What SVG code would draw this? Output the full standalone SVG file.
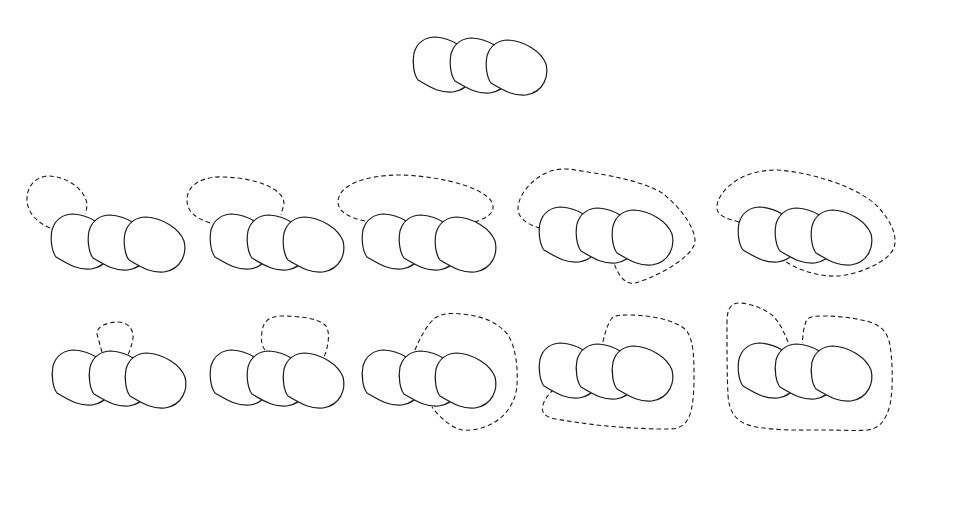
<svg xmlns="http://www.w3.org/2000/svg" xmlns:xlink="http://www.w3.org/1999/xlink" width="960" height="508" viewBox="0 0 960 508">
<style>
.blob{fill:#fff;stroke:#1a1a1a;stroke-width:1.2}
.loop{fill:none;stroke:#1a1a1a;stroke-width:1.1;stroke-dasharray:4.5 3}
</style>
<defs>
<path id="b" class="blob" d="M5,43 C1,38 -1,26 1,16 C4,5 13,0 22,0 C38,1 55,11 60,24 C63,36 58,52 40,55 C28,56 20,52 5,43 Z"/>
<g id="tri">
<use xlink:href="#b"/>
<use xlink:href="#b" x="37" y="1"/>
<use xlink:href="#b" x="73" y="3"/>
</g>
</defs>
<rect width="960" height="508" fill="#fff"/>
<g id="top"><use xlink:href="#tri" x="413" y="37"/></g>
<g id="figA">
<path class="loop" d="M50,228 C36,222 27,212 27,199 C27,184 38,176 49,176 C68,177 86,190 87,205 L86,214"/>
<use xlink:href="#tri" x="51" y="214"/>
</g>
<g id="figB">
<path class="loop" d="M210,223 C196,218 187,212 187,200 C187,184 204,176 224,177 C255,178 284,188 284,204 L281,215"/>
<use xlink:href="#tri" x="210" y="214"/>
</g>
<g id="figC">
<path class="loop" d="M365,221 C350,218 338,212 338,202 C338,185 365,175 400,175 C445,176 492,190 493,206 C494,214 484,220 473,222"/>
<use xlink:href="#tri" x="362" y="214"/>
</g>
<g id="figD">
<path class="loop" d="M540,228 C528,225 518,218 518,209 C518,196 530,180 548,172 C556,169 566,168 575,170 C610,175 645,182 662,193 C678,205 694,225 695,240 C696,255 660,276 635,283 C625,285 618,275 614,263"/>
<use xlink:href="#tri" x="539" y="207"/>
</g>
<g id="figE">
<path class="loop" d="M739,222 C728,219 718,216 717,209 C716,200 724,188 737,180 C750,172 765,170 778,170 C815,173 860,188 878,207 C890,220 898,235 894,248 C888,262 860,274 838,276 C818,277 798,270 783,260"/>
<use xlink:href="#tri" x="738" y="207"/>
</g>
<g id="figF">
<path class="loop" d="M102,352 L97,334 C96,327 107,322 118,322 C128,322 134,330 133,338 C132,345 130,350 128,355"/>
<use xlink:href="#tri" x="52" y="350"/>
</g>
<g id="figG">
<path class="loop" d="M265,350 C261,345 261,338 262,332 C263,322 268,317 280,316 C300,316 318,318 326,326 C330,332 329,345 324,357"/>
<use xlink:href="#tri" x="210" y="350"/>
</g>
<g id="figH">
<path class="loop" d="M415,350 C420,338 426,326 435,318 C442,313 452,313 462,314 C482,316 498,322 508,335 C516,348 518,368 517,385 C516,400 508,414 495,422 C485,428 474,431 462,430 C452,428 440,418 432,407"/>
<use xlink:href="#tri" x="362" y="350"/>
</g>
<g id="figI">
<path class="loop" d="M603,342 C605,333 607,325 612,318 C616,315 622,315 630,315 C650,315 675,320 686,330 C694,340 694,360 694,378 C694,398 692,418 684,424 C678,430 668,429 658,429 C620,428 590,425 556,419 C544,417 541,412 543,405 C545,398 549,394 553,390"/>
<use xlink:href="#tri" x="539" y="343"/>
</g>
<g id="figJ">
<path class="loop" d="M788,342 C784,332 780,323 773,316 C765,309 752,304 740,303 C730,303 727,310 727,322 C727,350 727,375 728,395 C729,412 736,422 752,426 C775,431 800,430 822,430 C840,430 855,431 868,430 C880,428 886,420 890,405 C893,390 893,365 890,345 C887,330 880,326 870,322 C855,318 840,316 822,316 C810,316 806,318 805,325 C803,330 803,338 802,343"/>
<use xlink:href="#tri" x="738" y="343"/>
</g>
</svg>
